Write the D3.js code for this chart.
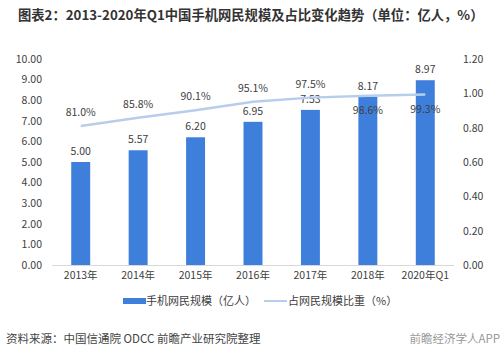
<!DOCTYPE html>
<html><head><meta charset="utf-8">
<script src="https://cdn.jsdelivr.net/npm/d3@7"></script>
<style>
html,body{margin:0;padding:0;background:#fff;}
text{font-family:"Noto Sans CJK SC","Microsoft YaHei",sans-serif;}
</style></head>
<body><svg id="c" width="500" height="355"></svg>
<script>
const categories = ["2013年","2014年","2015年","2016年","2017年","2018年","2020年Q1"];
const users = [5.00,5.57,6.20,6.95,7.53,8.17,8.97];
const share = [0.810,0.858,0.901,0.951,0.975,0.986,0.993];
const shareLabels = ["81.0%","85.8%","90.1%","95.1%","97.5%","98.6%","99.3%"];
const leftTicks = [0,1,2,3,4,5,6,7,8,9,10];
const rightTicks = [0,0.2,0.4,0.6,0.8,1.0,1.2];

const svg = d3.select("#c");
const x = d3.scaleBand().domain(categories).range([52,454]).paddingInner(0.67).paddingOuter(0.335);
const yL = d3.scaleLinear().domain([0,10]).range([265,59]);
const yR = d3.scaleLinear().domain([0,1.2]).range([265,59]);
const txt = "#404040";

svg.append("text").attr("x",18).attr("y",20).attr("font-size",13.3).attr("font-weight","bold")
  .attr("fill","#333").text("图表2：2013-2020年Q1中国手机网民规模及占比变化趋势（单位：亿人，%）");

// left axis
const gl = svg.append("g").attr("transform","translate(44,0)")
  .call(d3.axisLeft(yL).tickValues(leftTicks).tickFormat(d3.format(".2f")).tickSize(0).tickPadding(2));
gl.select(".domain").remove();
gl.selectAll("text").attr("font-size",10.5).attr("fill",txt).attr("font-family","Liberation Sans, Arial, sans-serif");

const gr = svg.append("g").attr("transform","translate(462,0)")
  .call(d3.axisRight(yR).tickValues(rightTicks).tickFormat(d3.format(".2f")).tickSize(0).tickPadding(1));
gr.select(".domain").remove();
gr.selectAll("text").attr("font-size",10.5).attr("fill",txt).attr("font-family","Liberation Sans, Arial, sans-serif");

// bars
svg.append("g").selectAll("rect").data(users).join("rect")
  .attr("x",(d,i)=>x(categories[i])).attr("width",x.bandwidth())
  .attr("y",d=>yL(d)).attr("height",d=>yL(0)-yL(d)).attr("fill","#3e7fdc");

// baseline
svg.append("line").attr("x1",52).attr("x2",454).attr("y1",265.5).attr("y2",265.5).attr("stroke","#d9d9d9");

// x labels
const gx = svg.append("g").attr("transform","translate(0,266)")
  .call(d3.axisBottom(x).tickSize(0).tickPadding(6));
gx.select(".domain").remove();
gx.selectAll("text").attr("font-size",10.5).attr("fill",txt);

// bar labels
svg.append("g").selectAll("text").data(users).join("text")
  .attr("x",(d,i)=>x(categories[i])+x.bandwidth()/2).attr("y",d=>yL(d)-7)
  .attr("text-anchor","middle").attr("font-size",10.5).attr("fill",txt)
  .attr("font-family","Liberation Sans, Arial, sans-serif").text(d=>d.toFixed(2));

// line
const line = d3.line().x((d,i)=>x(categories[i])+x.bandwidth()/2).y(d=>yR(d));
svg.append("path").datum(share).attr("d",line).attr("fill","none").attr("stroke","#b8cdeb").attr("stroke-width",2.5);

svg.append("g").selectAll("text").data(share).join("text")
  .attr("x",(d,i)=>x(categories[i])+x.bandwidth()/2)
  .attr("y",(d,i)=> i>=5 ? yR(d)+18 : yR(d)-10)
  .attr("text-anchor","middle").attr("font-size",10.5).attr("fill",txt)
  .attr("font-family","Liberation Sans, Arial, sans-serif").text((d,i)=>shareLabels[i]);

// legend
svg.append("rect").attr("x",123).attr("y",298).attr("width",23).attr("height",6).attr("fill","#3e7fdc");
svg.append("text").attr("x",146).attr("y",305).attr("font-size",11).attr("fill",txt).text("手机网民规模（亿人）");
svg.append("line").attr("x1",264).attr("x2",287).attr("y1",301).attr("y2",301).attr("stroke","#b8cdeb").attr("stroke-width",2);
svg.append("text").attr("x",288).attr("y",305).attr("font-size",11).attr("fill",txt).text("占网民规模比重（%）");

// source
svg.append("text").attr("x",6).attr("y",343).attr("font-size",11.5).attr("fill","#444").text("资料来源：中国信通院 ODCC 前瞻产业研究院整理");
svg.append("text").attr("x",500).attr("y",343).attr("text-anchor","end").attr("font-size",11.5).attr("fill","#999").text("前瞻经济学人APP");
</script></body></html>
